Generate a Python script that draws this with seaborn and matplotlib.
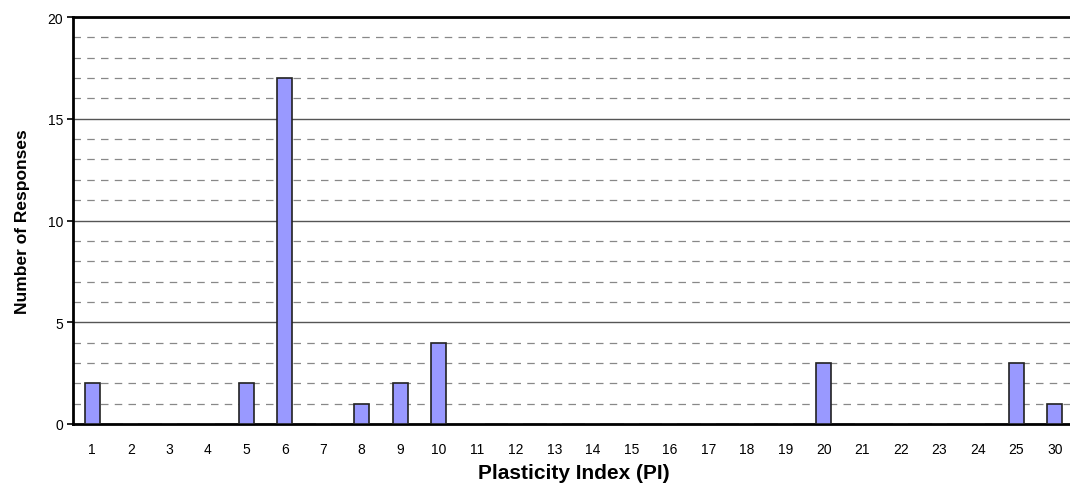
import matplotlib
matplotlib.use("Agg")
import matplotlib.pyplot as plt
from matplotlib.ticker import MultipleLocator
import pandas as pd
import seaborn as sns

# data
pi_values = ["1", "2", "3", "4", "5", "6", "7", "8", "9", "10", "11", "12", "13",
             "14", "15", "16", "17", "18", "19", "20", "21", "22", "23", "24", "25", "30"]
responses = [2, 0, 0, 0, 2, 17, 0, 1, 2, 4, 0, 0, 0,
             0, 0, 0, 0, 0, 0, 3, 0, 0, 0, 0, 3, 1]

df = pd.DataFrame({"PI": pi_values, "Responses": responses})

sns.set_theme(style="white")
plt.rcParams["font.family"] = ["Liberation Sans", "DejaVu Sans"]
plt.rcParams["text.color"] = "black"
plt.rcParams["axes.labelcolor"] = "black"
plt.rcParams["xtick.color"] = "black"
plt.rcParams["ytick.color"] = "black"

fig = plt.figure(figsize=(10.7, 4.85), dpi=100)
ax = fig.add_axes([73 / 1070, 1 - 425 / 485, 1001 / 1070, 407 / 485])

sns.barplot(data=df, x="PI", y="Responses", order=pi_values, color="#9999FF",
            saturation=1, width=0.4, edgecolor="#222222", linewidth=1.2, ax=ax, zorder=3)

ax.set_ylim(0, 20)
ax.set_xlim(-0.5, len(pi_values) - 0.5)
ax.yaxis.set_major_locator(MultipleLocator(5))
ax.yaxis.set_minor_locator(MultipleLocator(1))
ax.grid(axis="y", which="minor", color="#888888", linestyle=(0, (6, 5)), linewidth=0.9, zorder=0)
ax.grid(axis="y", which="major", color="#555555", linestyle="-", linewidth=1.0, zorder=0)
ax.set_axisbelow(True)

# category separator ticks on x axis
ax.set_xticks([i for i in range(len(pi_values))])
ax.set_xticklabels(pi_values)
ax.set_xticks([i - 0.5 for i in range(len(pi_values) + 1)], minor=True)
ax.tick_params(axis="x", which="major", length=0, pad=13, labelsize=10)
ax.tick_params(axis="x", which="minor", length=4, width=1.2, color="black", direction="out")
ax.tick_params(axis="y", which="major", length=4, width=1.2, color="black", direction="out",
               labelsize=10, pad=3)
ax.tick_params(axis="y", which="minor", length=0)
ax.tick_params(bottom=True, left=True)

for side in ["left", "bottom", "top"]:
    ax.spines[side].set_visible(True)
    ax.spines[side].set_color("black")
    ax.spines[side].set_linewidth(2)
ax.spines["right"].set_visible(False)

ax.set_xlabel("Plasticity Index (PI)", fontsize=15, fontweight="bold", labelpad=5)
ax.set_ylabel("Number of Responses", fontsize=12.5, fontweight="bold", labelpad=13)

fig.savefig("out.png", dpi=100)
